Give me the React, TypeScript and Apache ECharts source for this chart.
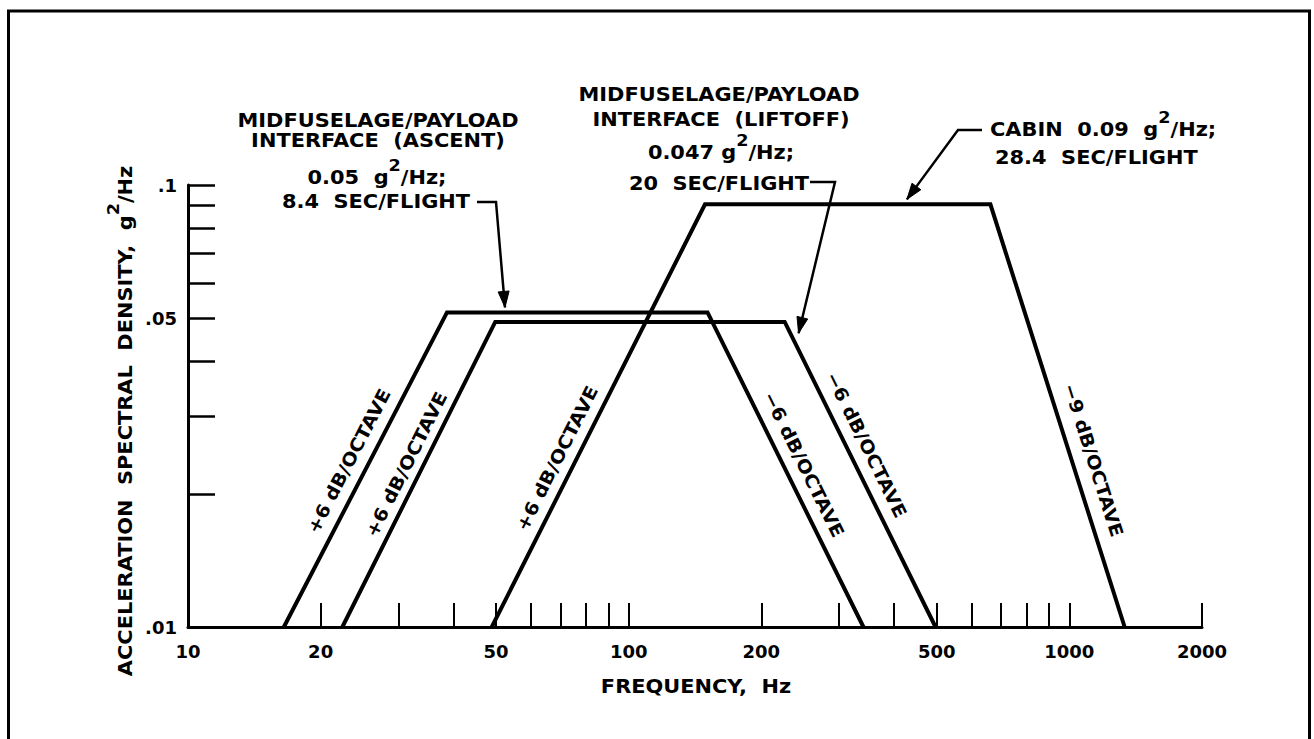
import React, { useEffect, useRef } from "react";
import * as echarts from "echarts";

// ---- axis ticks / labels ----
const freqTickValues = [20, 30, 40, 50, 60, 70, 80, 90, 100, 200, 300, 400, 500, 600, 700, 800, 900, 1000, 2000];
const freqLabelValues = [10, 20, 50, 100, 200, 500, 1000, 2000];
const psdTickValues = [0.02, 0.03, 0.04, 0.05, 0.06, 0.07, 0.08, 0.09, 0.1];
const psdLabelValues = [0.01, 0.05, 0.1];

// ---- series (frequency Hz, g^2/Hz) ----
const ascentFreq = [16.5, 38.7, 151, 341];
const ascentPsd = [0.01, 0.0515, 0.0515, 0.01];
const liftoffFreq = [22.4, 49.8, 226, 497];
const liftoffPsd = [0.01, 0.049, 0.049, 0.01];
const cabinFreq = [48.9, 149, 662, 1335];
const cabinPsd = [0.01, 0.0904, 0.0904, 0.01];

const seriesNames = ["Midfuselage/payload interface (ascent)", "Midfuselage/payload interface (liftoff)", "Cabin"];

// slope labels: which series, which segment (0 = rising, 2 = falling)
const slopeTexts = ["+6 dB/OCTAVE", "+6 dB/OCTAVE", "+6 dB/OCTAVE", "\u22126 dB/OCTAVE", "\u22126 dB/OCTAVE", "\u22129 dB/OCTAVE"];
const slopeSeries = [0, 1, 2, 0, 1, 2];
const slopeSegment = [0, 0, 0, 2, 2, 2];

// arrow targets in data coordinates
const ascentArrowAt = [52.4, 0.0515];
const liftoffArrowAt = [243, 0.0462];
const cabinArrowAt = [428, 0.0904];

const FONT = "DejaVu Sans";

export default function App() {
  const ref = useRef<HTMLDivElement>(null);

  useEffect(() => {
    if (!ref.current) return;
    const chart = echarts.init(ref.current, null, { renderer: "svg", width: 1314, height: 739 });

    const lists = [
      [ascentFreq, ascentPsd],
      [liftoffFreq, liftoffPsd],
      [cabinFreq, cabinPsd],
    ];

    chart.setOption({
      animation: false,
      backgroundColor: "#ffffff",
      grid: { left: 188, right: 112, top: 185, bottom: 112, containLabel: false, outerBoundsMode: "none" },
      xAxis: {
        type: "log",
        logBase: 10,
        min: 10,
        max: 2000,
        axisLine: { show: true, onZero: false, lineStyle: { color: "#000", width: 3 } },
        axisTick: { show: true, inside: true, length: 24, customValues: freqTickValues, lineStyle: { color: "#000", width: 2 } },
        minorTick: { show: false },
        splitLine: { show: false },
        minorSplitLine: { show: false },
        axisLabel: {
          customValues: freqLabelValues,
          margin: 15,
          color: "#000",
          fontFamily: FONT,
          fontWeight: "bold",
          fontSize: 18,
          formatter: (v: number) => String(Math.round(v)),
        },
      },
      yAxis: {
        type: "log",
        logBase: 10,
        min: 0.01,
        max: 0.1,
        axisLine: { show: true, onZero: false, lineStyle: { color: "#000", width: 3 } },
        axisTick: { show: true, inside: true, length: 27, customValues: psdTickValues, lineStyle: { color: "#000", width: 2.5 } },
        minorTick: { show: false },
        splitLine: { show: false },
        minorSplitLine: { show: false },
        axisLabel: {
          customValues: psdLabelValues,
          margin: 11,
          color: "#000",
          fontFamily: FONT,
          fontWeight: "bold",
          fontSize: 18,
          formatter: (v: number) => {
            const s = Number(v).toFixed(2).replace(/0+$/, "");
            return s.replace(/^0/, "");
          },
        },
      },
      series: lists.map(([f, p], i) => ({
        name: seriesNames[i],
        type: "line",
        data: f.map((x, j) => [x, p[j]]),
        symbol: "none",
        showSymbol: false,
        silent: true,
        clip: false,
        lineStyle: { color: "#000", width: 4, join: "miter" },
        z: 3,
      })),
    });

    const toPx = (pt: number[]) => chart.convertToPixel({ xAxisIndex: 0, yAxisIndex: 0 }, pt) as number[];

    const rich = {
      s: { fontSize: 16, fontFamily: FONT, fontWeight: "bold", fill: "#000", padding: [0, 0, 24, 0] },
    };

    const txt = (text: string, x: number, y: number, align = "center", rotation = 0, scaleX = 1.1, fontSize = 19) => ({
      type: "text",
      x,
      y,
      rotation,
      scaleX,
      silent: true,
      z: 10,
      style: {
        text,
        fill: "#000",
        fontFamily: FONT,
        fontWeight: "bold",
        fontSize,
        align,
        verticalAlign: "middle",
        rich,
      },
    });

    const arrow = (from: number[], tip: number[]) => {
      const dx = tip[0] - from[0];
      const dy = tip[1] - from[1];
      const len = Math.hypot(dx, dy);
      const ux = dx / len, uy = dy / len;
      const L = 16, W = 5.5;
      const bx = tip[0] - ux * L, by = tip[1] - uy * L;
      return {
        type: "polygon",
        silent: true,
        z: 10,
        shape: { points: [tip, [bx - uy * W, by + ux * W], [bx + uy * W, by - ux * W]] },
        style: { fill: "#000", stroke: "#000", lineWidth: 1 },
      };
    };
    const leader = (pts: number[][]) => ({
      type: "polyline",
      silent: true,
      z: 10,
      shape: { points: pts },
      style: { stroke: "#000", lineWidth: 2.5, fill: "none" },
    });

    const elements: any[] = [];
    // frame
    elements.push({
      type: "rect",
      silent: true,
      shape: { x: 8.5, y: 11, width: 1301, height: 800 },
      style: { fill: "none", stroke: "#000", lineWidth: 3 },
    });

    // axis titles
    elements.push(txt("ACCELERATION  SPECTRAL  DENSITY,  g{s|2}/Hz", 125, 421, "center", Math.PI / 2, 1.1, 19));
    elements.push(txt("FREQUENCY,  Hz", 696, 686, "center", 0, 1.1, 19));

    // ascent block
    elements.push(txt("MIDFUSELAGE/PAYLOAD", 378, 120));
    elements.push(txt("INTERFACE  (ASCENT)", 378, 140));
    elements.push(txt("0.05  g{s|2}/Hz;", 377, 177));
    elements.push(txt("8.4  SEC/FLIGHT", 376, 201));
    const aTip = toPx(ascentArrowAt);
    aTip[1] -= 5;
    elements.push(leader([[477, 202], [496, 202], aTip]));
    elements.push(arrow([496, 202], aTip));

    // liftoff block
    elements.push(txt("MIDFUSELAGE/PAYLOAD", 719, 94));
    elements.push(txt("INTERFACE  (LIFTOFF)", 721, 119));
    elements.push(txt("0.047 g{s|2}/Hz;", 721, 152));
    elements.push(txt("20  SEC/FLIGHT", 719, 183));
    const lTip = toPx(liftoffArrowAt);
    elements.push(leader([[810, 182], [835, 182], lTip]));
    elements.push(arrow([835, 182], lTip));

    // cabin block
    elements.push(txt("CABIN  0.09  g{s|2}/Hz;", 990, 129, "left"));
    elements.push(txt("28.4  SEC/FLIGHT", 995, 157, "left"));
    const cTip = toPx(cabinArrowAt);
    cTip[1] -= 5;
    elements.push(leader([[982, 130], [958, 130], cTip]));
    elements.push(arrow([958, 130], cTip));

    // slope labels along segments
    const slopeT = [0.5, 0.51, 0.38, 0.51, 0.43, 0.62];
    const slopeOff = [19, 16, 18, 19, 19, 21];
    slopeTexts.forEach((t, i) => {
      const [f, p] = lists[slopeSeries[i]];
      const s = slopeSegment[i];
      const p0 = toPx([f[s], p[s]]);
      const p1 = toPx([f[s + 1], p[s + 1]]);
      const dx = p1[0] - p0[0], dy = p1[1] - p0[1];
      const len = Math.hypot(dx, dy);
      const ux = dx / len, uy = dy / len;
      const nx = uy, ny = -ux;
      const cx = p0[0] + dx * slopeT[i] + nx * slopeOff[i];
      const cy = p0[1] + dy * slopeT[i] + ny * slopeOff[i];
      const rot = Math.atan2(-dy, dx);
      elements.push(txt(t, cx, cy, "center", rot, 1.1, 18));
    });

    chart.setOption({ graphic: { elements } });

    return () => chart.dispose();
  }, []);

  return (
    <div
      ref={ref}
      style={{ position: "fixed", left: 0, top: 0, width: 1314, height: 739, background: "#fff" }}
    />
  );
}
